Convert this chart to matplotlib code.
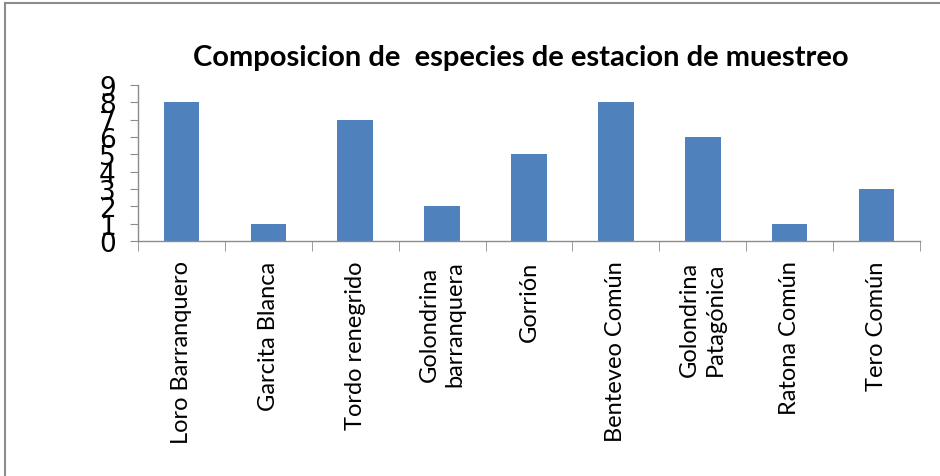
import matplotlib
matplotlib.use("Agg")
import matplotlib.pyplot as plt
from matplotlib.lines import Line2D

categories = ["Loro Barranquero", "Garcita Blanca", "Tordo renegrido",
              "Golondrina\nbarranquera", "Gorrión", "Benteveo Común",
              "Golondrina\nPatagónica", "Ratona Común", "Tero Común"]
counts = [8, 1, 7, 2, 5, 8, 6, 1, 3]
y_ticks = list(range(0, 10))
title = "Composicion de  especies de estacion de muestreo"

W, H = 940, 477
fig = plt.figure(figsize=(W / 100, H / 100), dpi=100)
ax = fig.add_axes([138 / W, 1 - 242 / H, (920 - 138) / W, (242 - 86) / H])

x = list(range(len(categories)))
ax.bar(x, counts, width=0.41, color="#4F81BD", zorder=2)
ax.set_xlim(-0.5, len(categories) - 0.5)
ax.set_ylim(0, 9)

for s in ["top", "right"]:
    ax.spines[s].set_visible(False)
for s in ["left", "bottom"]:
    ax.spines[s].set_color("#8c8c8c")
    ax.spines[s].set_linewidth(1.0)

ax.set_yticks(y_ticks)
ax.set_yticklabels([str(v) for v in y_ticks],
                   fontfamily=["Liberation Sans Narrow", "DejaVu Sans"],
                   fontsize=19)
ax.tick_params(axis="y", direction="out", length=6, color="#8c8c8c", pad=10)

# category labels centred under bars, ticks between categories
ax.set_xticks(x)
ax.set_xticklabels(categories, rotation=90, fontsize=17, fontfamily=["Lato", "DejaVu Sans"],
                   va="top", ha="center", linespacing=1.3)
ax.tick_params(axis="x", which="major", length=0, pad=14)
ax.set_xticks([i + 0.5 for i in range(-1, len(categories))], minor=True)
ax.tick_params(axis="x", which="minor", direction="out", length=7, color="#8c8c8c")

fig.text(0.554, 1 - 58 / H, title, ha="center", va="center", fontsize=21,
         fontweight="bold", fontfamily=["Lato", "DejaVu Sans"])

# outer chart border
fig.add_artist(Line2D([4.5 / W, 4.5 / W], [0, 1 - 4 / H], color="#8c8c8c", lw=1.5))
fig.add_artist(Line2D([4.5 / W, 1], [1 - 4 / H, 1 - 4 / H], color="#8c8c8c", lw=1.5))

fig.savefig("out.png", dpi=100, facecolor="white")
